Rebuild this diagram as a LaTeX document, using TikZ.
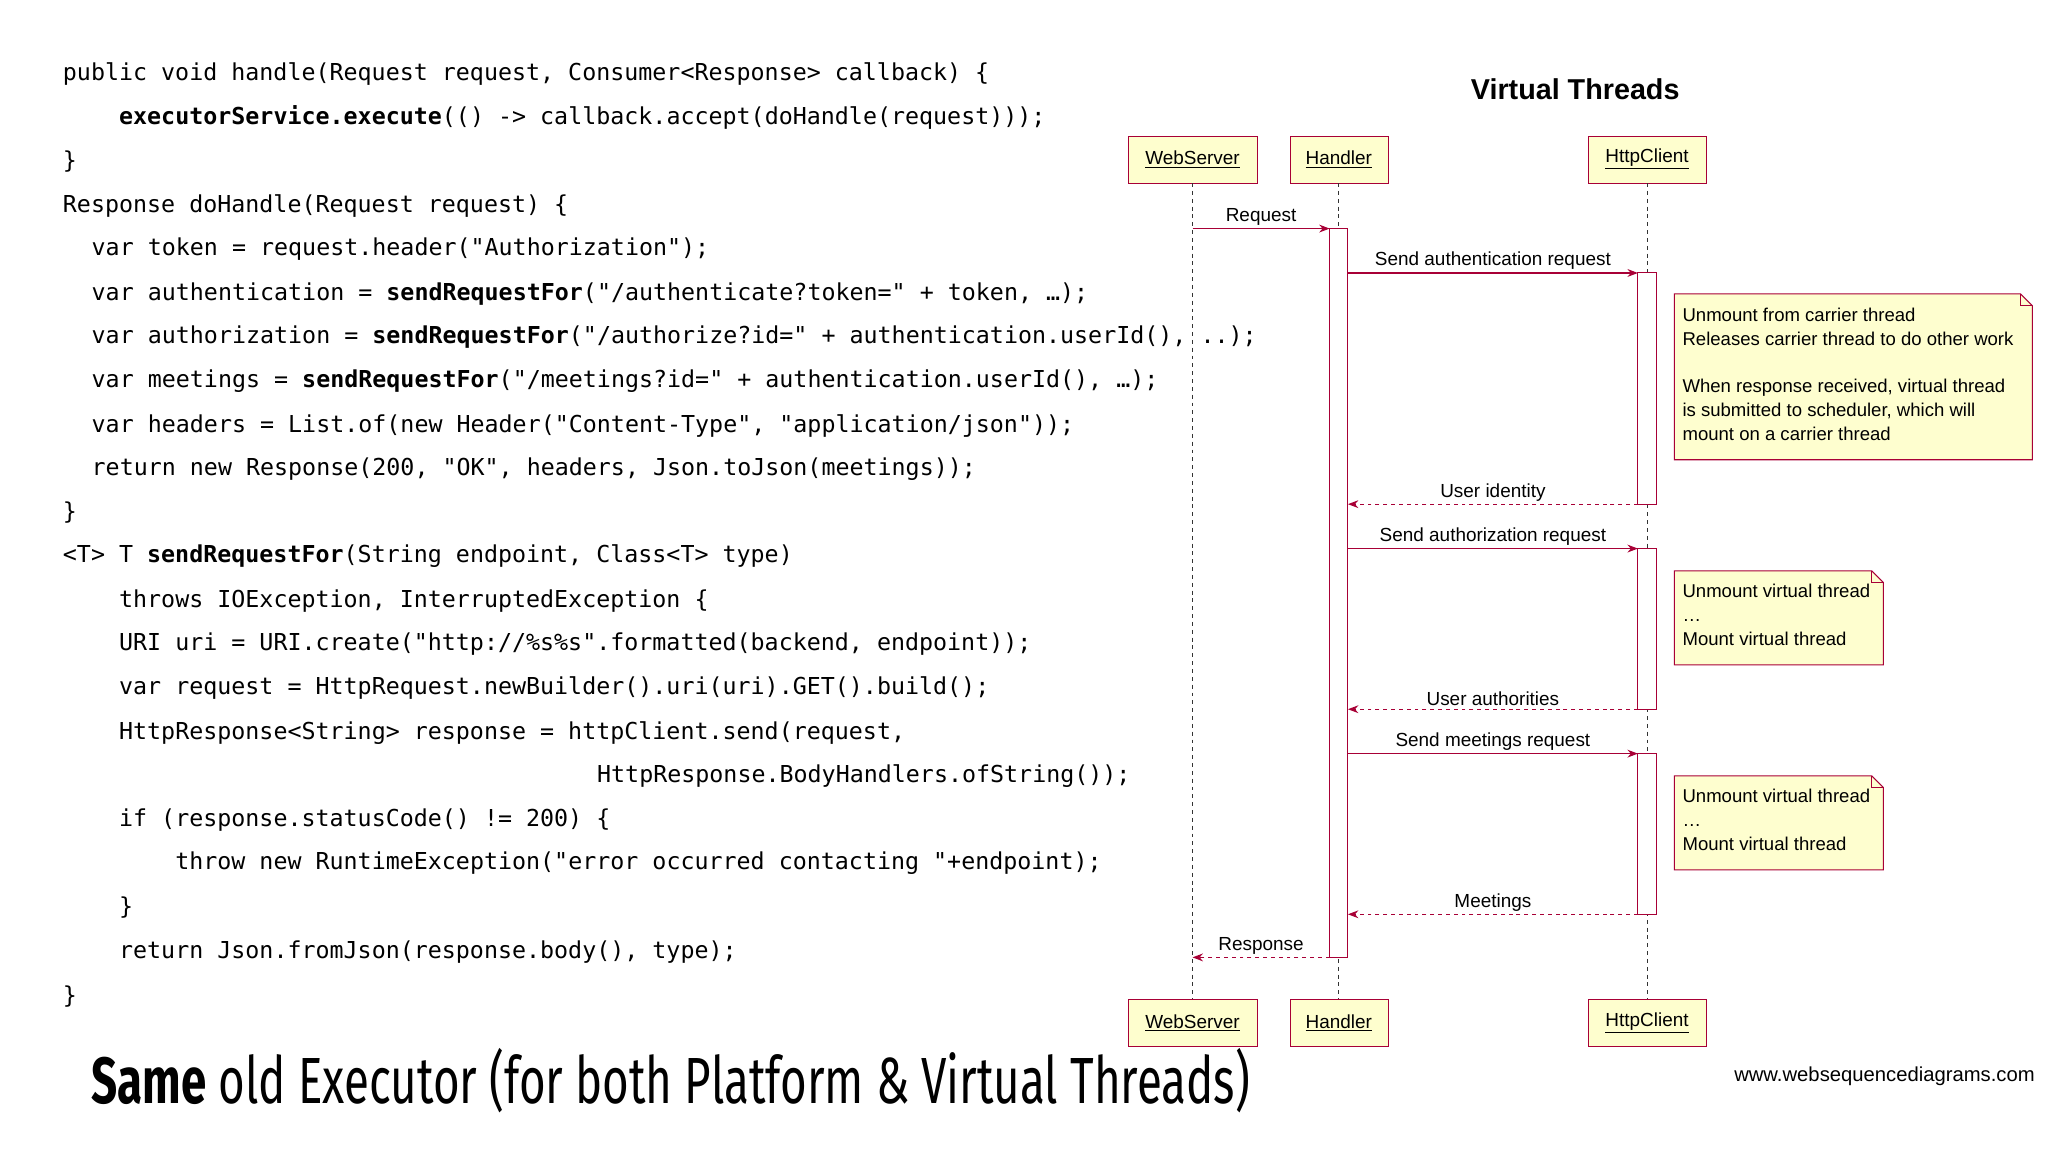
\documentclass[tikz,border=0pt]{standalone}
\usepackage{fontspec}
\setmainfont{Liberation Sans}
\newfontfamily\codefont{DejaVu Sans Mono}
\newfontfamily\titlefont{Fira Sans}
\usetikzlibrary{arrows.meta}
\definecolor{seqred}{HTML}{A80036}
\definecolor{seqfill}{HTML}{FEFECE}
\definecolor{notefill}{HTML}{FBFB77}
\begin{document}
\begin{tikzpicture}[x=1pt,y=-1pt,
  code/.style={anchor=base west,inner sep=0pt,font=\codefont\fontsize{17.85}{20}\selectfont},
  part/.style={draw=seqred,fill=seqfill,minimum height=36pt,inner sep=0pt,font=\fontsize{14.5}{16}\selectfont},
  life/.style={dashed,black!80,line width=0.8pt},
  act/.style={draw=seqred,fill=white,line width=0.8pt},
  msg/.style={seqred,line width=0.9pt,-{Stealth[length=8pt,width=6pt]}},
  ret/.style={msg,dashed},
  lbl/.style={font=\fontsize{14.5}{16}\selectfont,above,inner sep=2pt,text=black},
  note/.style={draw=seqred,fill=notefill!35,line width=0.8pt},
  notetext/.style={anchor=north west,align=left,inner sep=0pt,font=\fontsize{14.2}{18.2}\selectfont}]
\useasboundingbox (0,0) rectangle (1568,882);
\fill[white] (0,0) rectangle (1568,882);

% code
\node[code] (c1) at (48,62) {public void handle(Request request, Consumer<Response> callback) \{};
\node[code] (c2) at (91,95) {\textbf{executorService.execute}(() -> callback.accept(doHandle(request)));};
\node[code] (c3) at (48,129) {\}};
\node[code] (c4) at (48,163) {Response doHandle(Request request) \{};
\node[code] (c5) at (70,196) {var token = request.header("Authorization");};
\node[code] (c6) at (70,230) {var authentication = \textbf{sendRequestFor}("/authenticate?token=" + token, …);};
\node[code] (c7) at (70,263) {var authorization = \textbf{sendRequestFor}("/authorize?id=" + authentication.userId(), ..);};
\node[code] (c8) at (70,297) {var meetings = \textbf{sendRequestFor}("/meetings?id=" + authentication.userId(), …);};
\node[code] (c9) at (70,331) {var headers = List.of(new Header("Content-Type", "application/json"));};
\node[code] (c10) at (70,364) {return new Response(200, "OK", headers, Json.toJson(meetings));};
\node[code] (c11) at (48,398) {\}};
\node[code] (c12) at (48,431) {<T> T \textbf{sendRequestFor}(String endpoint, Class<T> type)};
\node[code] (c13) at (91,465) {throws IOException, InterruptedException \{};
\node[code] (c14) at (91,498) {URI uri = URI.create("http://\%s\%s".formatted(backend, endpoint));};
\node[code] (c15) at (91,532) {var request = HttpRequest.newBuilder().uri(uri).GET().build();};
\node[code] (c16) at (91,566) {HttpResponse<String> response = httpClient.send(request,};
\node[code] (c17) at (457,599) {HttpResponse.BodyHandlers.ofString());};
\node[code] (c18) at (91,633) {if (response.statusCode() != 200) \{};
\node[code] (c19) at (134,666) {throw new RuntimeException("error occurred contacting "+endpoint);};
\node[code] (c20) at (91,700) {\}};
\node[code] (c21) at (91,734) {return Json.fromJson(response.body(), type);};
\node[code] (c22) at (48,768) {\}};

% slide title
\node[anchor=base west,inner sep=0pt,xscale=0.7,font=\titlefont\fontsize{50}{56}\selectfont] (title) at (70,845)
  {\textbf{Same} old Executor (for both Platform \& Virtual Threads)};

% diagram
\node[font=\bfseries\fontsize{22}{24}\selectfont] (vt) at (1206,68) {Virtual Threads};
\node[part,minimum width=99pt] (ws) at (913,122) {\underline{WebServer}};
\node[part,minimum width=75pt] (hd) at (1025,122) {\underline{Handler}};
\node[part,minimum width=90pt] (hc) at (1261,122) {\underline{HttpClient}};
\node[part,minimum width=99pt] (ws2) at (913,783) {\underline{WebServer}};
\node[part,minimum width=75pt] (hd2) at (1025,783) {\underline{Handler}};
\node[part,minimum width=90pt] (hc2) at (1261,783) {\underline{HttpClient}};
\draw[life] (ws) -- (ws2);
\draw[life] (hd) -- (hd2);
\draw[life] (hc) -- (hc2);

\draw[act] (1018,175) rectangle (1032,733);
\draw[act] (1254,209) rectangle (1268,386);
\draw[act] (1254,420) rectangle (1268,543);
\draw[act] (1254,577) rectangle (1268,700);

\coordinate (w1) at (913,175); \coordinate (h1) at (1018,175);
\draw[msg] (w1) -- node[lbl] {Request} (h1);
\coordinate (h2) at (1032,209); \coordinate (c2) at (1254,209);
\draw[msg] (h2) -- node[lbl] {Send authentication request} (c2);
\coordinate (h3) at (1032,386); \coordinate (c3) at (1254,386);
\draw[ret] (c3) -- node[lbl] {User identity} (h3);
\coordinate (h4) at (1032,420); \coordinate (c4) at (1254,420);
\draw[msg] (h4) -- node[lbl] {Send authorization request} (c4);
\coordinate (h5) at (1032,543); \coordinate (c5) at (1254,543);
\draw[ret] (c5) -- node[lbl] {User authorities} (h5);
\coordinate (h6) at (1032,577); \coordinate (c6) at (1254,577);
\draw[msg] (h6) -- node[lbl] {Send meetings request} (c6);
\coordinate (h7) at (1032,700); \coordinate (c7) at (1254,700);
\draw[ret] (c7) -- node[lbl] {Meetings} (h7);
\coordinate (h8) at (1018,733); \coordinate (w8) at (913,733);
\draw[ret] (h8) -- node[lbl] {Response} (w8);

% notes
\draw[note] (1282,225) -- (1547,225) -- (1556,234) -- (1556,352) -- (1282,352) -- cycle;
\draw[seqred,line width=0.8pt] (1547,225) -- (1547,234) -- (1556,234);
\node[notetext] (n1) at (1288,236) {Unmount from carrier thread\\Releases carrier thread to do other work\\[18pt]When response received, virtual thread\\is submitted to scheduler, which will\\mount on a carrier thread};
\draw[note] (1282,437) -- (1433,437) -- (1442,446) -- (1442,509) -- (1282,509) -- cycle;
\draw[seqred,line width=0.8pt] (1433,437) -- (1433,446) -- (1442,446);
\node[notetext] (n2) at (1288,447) {Unmount virtual thread\\…\\Mount virtual thread};
\draw[note] (1282,594) -- (1433,594) -- (1442,603) -- (1442,666) -- (1282,666) -- cycle;
\draw[seqred,line width=0.8pt] (1433,594) -- (1433,603) -- (1442,603);
\node[notetext] (n3) at (1288,604) {Unmount virtual thread\\…\\Mount virtual thread};

\node[anchor=base east,inner sep=0pt,font=\fontsize{15.5}{18}\selectfont] (url) at (1558,828) {www.websequencediagrams.com};
\end{tikzpicture}
\end{document}
